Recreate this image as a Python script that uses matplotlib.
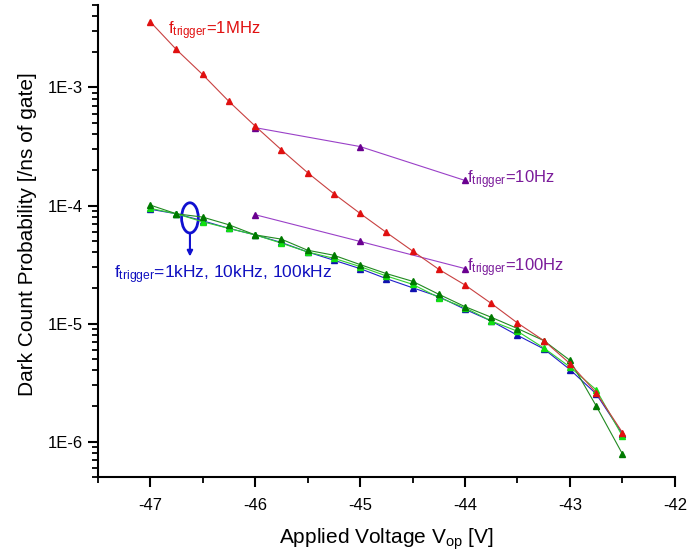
import numpy as np
import matplotlib
matplotlib.use('Agg')
import matplotlib.pyplot as plt
from matplotlib.patches import Ellipse
from matplotlib.ticker import FixedLocator, LogLocator, FuncFormatter, NullFormatter

plt.rcParams['font.family'] = ['Liberation Sans', 'DejaVu Sans']
plt.rcParams['mathtext.default'] = 'regular'

# 数据
v_full = [-47, -46.75, -46.5, -46.25, -46, -45.75, -45.5, -45.25, -45, -44.75,
          -44.5, -44.25, -44, -43.75, -43.5, -43.25, -43, -42.75, -42.5]
dcp_1mhz = [3.62e-3, 2.10e-3, 1.29e-3, 7.64e-4, 4.72e-4, 2.97e-4, 1.90e-4, 1.26e-4,
            8.58e-5, 5.92e-5, 4.12e-5, 2.88e-5, 2.12e-5, 1.48e-5, 1.01e-5, 7.17e-6,
            4.57e-6, 2.59e-6, 1.19e-6]
dcp_1khz = [9.3e-5, 8.51e-5, 7.43e-5, 6.40e-5, 5.64e-5, 4.86e-5, 4.04e-5, 3.44e-5,
            2.92e-5, 2.40e-5, 2.01e-5, 1.69e-5, 1.32e-5, 1.05e-5, 7.94e-6, 6.10e-6,
            4.07e-6, 2.53e-6, 1.16e-6]
dcp_10khz = [9.46e-5, 8.51e-5, 7.28e-5, 6.40e-5, 5.64e-5, 4.80e-5, 4.04e-5, 3.57e-5,
             3.04e-5, 2.53e-5, 2.15e-5, 1.66e-5, 1.36e-5, 1.05e-5, 8.6e-6, 6.21e-6,
             4.28e-6, 2.74e-6, 1.11e-6]
dcp_100khz = [1.01e-4, 8.51e-5, 7.98e-5, 6.87e-5, 5.64e-5, 5.19e-5, 4.18e-5, 3.79e-5,
              3.16e-5, 2.65e-5, 2.28e-5, 1.77e-5, 1.39e-5, 1.13e-5, 9.07e-6, 7.17e-6,
              4.87e-6, 2.00e-6, 7.83e-7]
v_low = [-46, -45, -44]
dcp_10hz = [4.57e-4, 3.16e-4, 1.63e-4]
dcp_100hz = [8.36e-5, 4.96e-5, 2.92e-5]

fig = plt.figure(figsize=(6.87, 5.56), dpi=100)
ax = fig.add_axes([0.142, 0.142, 0.8405, 0.849])

mk = dict(marker='^', markersize=4, linewidth=0.8)
ax.plot(v_full, dcp_1khz, color='#2020c8', markerfacecolor='#1010b0', markeredgecolor='#1010b0', **mk)
ax.plot(v_full, dcp_10khz, color='#30d030', markerfacecolor='#10e010', markeredgecolor='#10e010', **mk)
ax.plot(v_full, dcp_100khz, color='#208a20', markerfacecolor='#007a00', markeredgecolor='#007a00', **mk)
ax.plot(v_low, dcp_100hz, color='#9a40c8', markerfacecolor='#6a0090', markeredgecolor='#6a0090', **mk)
ax.plot(v_low, dcp_10hz, color='#9a40c8', markerfacecolor='#6a0090', markeredgecolor='#6a0090', **mk)
ax.plot(v_full, dcp_1mhz, color='#c84040', markerfacecolor='#e01010', markeredgecolor='#e01010', **mk)

ax.set_yscale('log')
ax.set_xlim(-47.5, -42)
ax.set_ylim(5e-7, 5e-3)

ax.xaxis.set_major_locator(FixedLocator([-47, -46, -45, -44, -43, -42]))
ax.xaxis.set_minor_locator(FixedLocator(np.arange(-47.5, -42, 1.0)))
ax.xaxis.set_major_formatter(FuncFormatter(lambda v, p: '%d' % v))
ax.yaxis.set_major_locator(LogLocator(base=10, numticks=10))
ax.yaxis.set_minor_locator(LogLocator(base=10, subs=np.arange(2, 10), numticks=20))
ax.yaxis.set_major_formatter(FuncFormatter(lambda v, p: '1E%d' % round(np.log10(v))))
ax.yaxis.set_minor_formatter(NullFormatter())

for s in ['top', 'right']:
    ax.spines[s].set_visible(False)
for s in ['left', 'bottom']:
    ax.spines[s].set_linewidth(1.5)
ax.tick_params(which='major', direction='out', length=7, width=1.5, labelsize=12, colors='black')
ax.tick_params(which='minor', direction='out', length=4.3, width=1.3)
ax.tick_params(axis='x', pad=8)

ax.set_xlabel(r'Applied Voltage V$_{op}$ [V]', fontsize=15, labelpad=10)
ax.set_ylabel('Dark Count Probability [/ns of gate]', fontsize=15)
ax.yaxis.set_label_coords(-0.105, 0.515)

ax.text(-46.83, 3.0e-3, r'f$_{trigger}$=1MHz', color='#e01010', fontsize=12, va='center')
ax.text(-43.98, 1.65e-4, r'f$_{trigger}$=10Hz', color='#7a1a9a', fontsize=12, va='center')
ax.text(-43.98, 2.95e-5, r'f$_{trigger}$=100Hz', color='#7a1a9a', fontsize=12, va='center')
ax.text(-47.34, 2.6e-5, r'f$_{trigger}$=1kHz, 10kHz, 100kHz', color='#1010c0', fontsize=12.5, va='center')

# 蓝色椭圆和箭头
ell = Ellipse((0.160, 0.549), 0.029, 0.064, transform=ax.transAxes, fill=False,
              edgecolor='#1010d0', linewidth=2)
ax.add_patch(ell)
ax.annotate('', xy=(-46.62, 3.5e-5), xytext=(-46.62, 6.1e-5),
            arrowprops=dict(arrowstyle='-|>', color='#1010d0', lw=1.5, mutation_scale=8))

fig.savefig('out.png', dpi=100)
